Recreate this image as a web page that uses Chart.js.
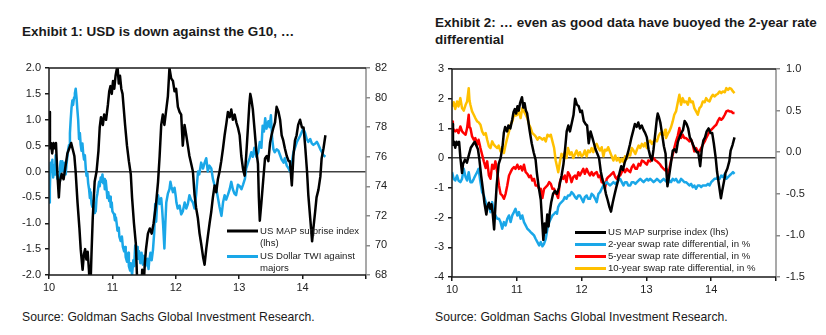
<!DOCTYPE html>
<html>
<head>
<meta charset="utf-8">
<script src="https://cdn.jsdelivr.net/npm/chart.js@4.4.0/dist/chart.umd.min.js"></script>
<style>
  body { margin: 0; background: #fff; width: 826px; height: 335px; overflow: hidden; position: relative;
         font-family: "Liberation Sans", Arial, sans-serif; color: #1a1a1a; }
  .title { position: absolute; font-weight: bold; font-size: 13.5px; line-height: 17px; white-space: nowrap; }
  .source { position: absolute; font-size: 12.2px; line-height: 16px; white-space: nowrap; top: 309px; }
  canvas { position: absolute; }
</style>
</head>
<body>
<div class="title" style="left:22px; top:23px;">Exhibit 1: USD is down against the G10, …</div>
<div class="title" style="left:435px; top:14px;">Exhibit 2: … even as good data have buoyed the 2-year rate<br>differential</div>
<canvas id="chart1" width="413" height="245" style="left:0px; top:55px"></canvas>
<canvas id="chart2" width="413" height="244" style="left:413px; top:56px"></canvas>
<div class="source" style="left:22px;">Source: Goldman Sachs Global Investment Research.</div>
<div class="source" style="left:435px;">Source: Goldman Sachs Global Investment Research.</div>

<script>
// years on the x axis are written as 10 = 2010, 14 = 2014
const yearTicks = [10, 11, 12, 13, 14];

// US MAP surprise index (lhs, both exhibits)
const mapSurprise = [
  [10.00,1.15],[10.015,0.45],[10.03,0.55],[10.05,0.35],[10.07,0.55],[10.09,0.45],[10.11,0.55],[10.13,0.0],[10.155,-0.5],[10.17,-0.2],
  [10.20,-0.05],[10.23,-0.15],[10.26,0.1],[10.29,0.35],[10.32,0.45],[10.35,0.55],[10.38,0.4],[10.40,0.3],[10.42,0.0],[10.45,-0.6],
  [10.48,-1.1],[10.50,-1.5],[10.53,-1.9],[10.55,-1.6],[10.57,-1.5],[10.59,-1.7],[10.61,-1.55],[10.63,-1.9],[10.65,-2.4],[10.67,-1.6],
  [10.69,-0.9],[10.72,-0.2],[10.75,0.0],[10.78,0.4],[10.80,0.85],[10.82,1.05],[10.85,0.9],[10.87,1.1],[10.90,1.0],[10.93,1.3],
  [10.95,1.55],[10.97,1.65],[10.99,1.5],[11.01,1.75],[11.03,1.6],[11.05,1.85],[11.08,2.05],[11.10,1.7],[11.12,1.85],[11.14,1.6],
  [11.16,1.5],[11.18,1.2],[11.20,0.9],[11.23,0.5],[11.26,0.2],[11.29,-0.05],[11.31,-0.5],[11.34,-1.0],[11.37,-1.4],[11.39,-2.1],
  [11.41,-2.75],[11.43,-2.2],[11.45,-2.5],[11.47,-1.9],[11.49,-2.3],[11.51,-1.8],[11.53,-1.5],[11.56,-1.2],[11.59,-1.1],[11.62,-1.2],
  [11.65,-1.0],[11.69,-0.6],[11.72,-0.2],[11.745,0.3],[11.77,0.9],[11.795,1.1],[11.82,0.9],[11.85,1.2],[11.875,1.45],[11.90,2.0],
  [11.927,1.8],[11.955,1.75],[11.98,1.55],[12.005,1.6],[12.033,1.25],[12.06,1.15],[12.085,1.1],[12.11,0.5],[12.138,0.9],[12.165,0.7],
  [12.19,0.5],[12.215,0.3],[12.243,0.15],[12.27,0.0],[12.296,-0.45],[12.32,-0.7],[12.348,-0.9],[12.375,-1.2],[12.401,-1.4],[12.43,-1.65],
  [12.454,-1.8],[12.48,-1.5],[12.506,-1.25],[12.533,-1.0],[12.559,-0.78],[12.585,-0.5],[12.612,-0.27],[12.638,-0.4],[12.664,-0.15],[12.69,0.0],
  [12.717,0.2],[12.745,0.45],[12.77,0.7],[12.80,0.95],[12.822,1.15],[12.85,1.05],[12.875,1.2],[12.90,1.0],[12.928,1.1],[12.955,0.95],
  [12.98,0.85],[13.007,0.7],[13.033,0.3],[13.06,0.05],[13.086,-0.08],[13.11,0.3],[13.138,0.85],[13.16,1.3],[13.175,1.5],[13.191,1.4],
  [13.215,1.2],[13.243,0.8],[13.27,0.4],[13.296,0.15],[13.31,-0.5],[13.325,-0.95],[13.35,-0.6],[13.38,-0.15],[13.407,0.25],[13.435,0.3],
  [13.46,0.2],[13.486,0.55],[13.51,0.7],[13.54,0.85],[13.565,0.95],[13.59,1.25],[13.62,1.15],[13.645,1.0],[13.67,0.7],[13.695,0.6],
  [13.72,0.45],[13.75,0.3],[13.78,0.2],[13.80,0.2],[13.83,-0.27],[13.855,0.3],[13.88,0.6],[13.905,0.7],[13.93,0.9],[13.96,1.0],
  [13.99,0.85],[14.015,0.85],[14.04,0.5],[14.07,0.0],[14.09,-0.45],[14.12,-0.9],[14.15,-1.35],[14.17,-1.1],[14.20,-0.75],[14.22,-0.5],
  [14.25,-0.35],[14.28,-0.1],[14.30,0.25],[14.33,0.45],[14.36,0.7]
];

// US Dollar TWI against majors (rhs, exhibit 1)
const usdTwi = [
  [10.000,72.9],[10.013,73.8],[10.026,75.6],[10.040,75.0],[10.053,75.8],[10.066,74.6],[10.079,75.4],[10.092,74.8],[10.105,76.1],[10.120,75.0],
  [10.132,74.5],[10.145,74.7],[10.158,74.3],[10.171,75.2],[10.184,75.7],[10.197,75.0],[10.210,75.7],[10.224,75.3],[10.237,75.0],[10.250,75.6],
  [10.263,74.8],[10.276,75.5],[10.290,76.0],[10.303,76.5],[10.316,76.8],[10.330,77.6],[10.342,78.5],[10.355,79.3],[10.368,79.8],[10.380,79.5],
  [10.395,80.0],[10.408,80.3],[10.421,80.6],[10.434,80.0],[10.447,79.2],[10.460,78.5],[10.474,77.2],[10.487,77.6],[10.500,76.8],[10.513,76.4],
  [10.527,76.9],[10.540,76.2],[10.553,75.8],[10.566,76.1],[10.580,75.2],[10.592,74.7],[10.605,74.9],[10.618,74.2],[10.632,73.8],[10.645,73.2],
  [10.658,73.6],[10.671,72.8],[10.684,72.6],[10.697,73.0],[10.710,72.2],[10.724,72.6],[10.737,72.3],[10.750,73.2],[10.763,73.5],[10.776,73.9],
  [10.790,74.3],[10.800,74.0],[10.816,74.6],[10.830,74.3],[10.843,74.8],[10.856,74.2],[10.869,74.5],[10.880,73.8],[10.895,74.4],[10.910,73.7],
  [10.920,73.2],[10.935,73.6],[10.950,73.0],[10.963,73.3],[10.974,72.6],[10.990,72.9],[11.000,72.3],[11.027,72.1],[11.040,71.7],[11.055,71.9],
  [11.070,71.4],[11.080,71.0],[11.100,71.2],[11.110,70.6],[11.130,70.3],[11.150,70.6],[11.165,69.9],[11.185,69.6],[11.200,69.9],[11.210,69.2],
  [11.230,68.9],[11.250,69.5],[11.260,68.6],[11.280,68.3],[11.290,68.8],[11.310,68.0],[11.330,69.0],[11.343,68.6],[11.360,70.0],[11.370,69.3],
  [11.390,69.9],[11.400,69.1],[11.420,69.6],[11.440,68.8],[11.460,69.5],[11.480,68.7],[11.500,69.3],[11.520,68.6],[11.550,69.1],[11.570,68.4],
  [11.580,68.9],[11.600,69.5],[11.620,69.0],[11.640,69.7],[11.660,70.9],[11.675,72.8],[11.690,71.6],[11.705,72.8],[11.720,73.4],[11.745,72.8],
  [11.770,73.2],[11.785,72.4],[11.800,71.4],[11.820,69.8],[11.835,71.5],[11.850,72.9],[11.875,73.5],[11.900,73.8],[11.915,74.3],[11.930,74.0],
  [11.955,73.6],[11.980,73.9],[12.000,73.3],[12.010,72.9],[12.030,72.5],[12.060,72.7],[12.085,72.1],[12.110,72.3],[12.140,72.9],[12.165,72.5],
  [12.190,72.8],[12.215,73.4],[12.240,73.1],[12.270,72.9],[12.295,72.5],[12.320,73.4],[12.350,75.0],[12.370,74.8],[12.400,75.6],[12.430,75.2],
  [12.455,75.6],[12.480,75.9],[12.505,75.0],[12.530,75.4],[12.560,75.2],[12.585,74.5],[12.610,74.1],[12.640,73.8],[12.665,73.2],[12.690,72.6],
  [12.720,72.0],[12.745,72.9],[12.770,73.4],[12.795,73.1],[12.820,73.4],[12.850,73.8],[12.875,74.3],[12.900,73.8],[12.925,73.5],[12.950,73.4],
  [12.980,74.1],[13.010,74.0],[13.035,73.8],[13.060,74.1],[13.090,74.5],[13.110,75.2],[13.140,75.6],[13.165,75.9],[13.190,76.3],[13.215,76.0],
  [13.240,76.6],[13.270,76.0],[13.300,76.3],[13.325,77.0],[13.350,76.6],[13.370,78.1],[13.390,77.7],[13.410,78.6],[13.430,77.9],[13.460,78.4],
  [13.480,78.0],[13.500,78.8],[13.520,77.2],[13.540,76.5],[13.560,76.3],[13.590,76.5],[13.620,76.4],[13.645,76.1],[13.670,75.8],[13.700,75.6],
  [13.720,75.9],[13.750,75.4],[13.780,75.2],[13.800,75.0],[13.830,75.6],[13.855,76.3],[13.880,76.6],[13.910,77.0],[13.935,77.2],[13.960,77.4],
  [13.990,77.7],[14.010,77.9],[14.040,77.6],[14.065,77.2],[14.090,77.0],[14.120,77.2],[14.145,76.9],[14.170,76.8],[14.200,76.9],[14.225,77.0],
  [14.250,76.8],[14.280,76.5],[14.305,76.3],[14.330,76.1],[14.360,76.0]
];

// swap rate differentials, in % (rhs, exhibit 2)
const swap2y = [
  [10.00,-0.24],[10.026,-0.32],[10.05,-0.34],[10.078,-0.28],[10.10,-0.34],[10.129,-0.36],[10.155,-0.32],[10.181,-0.2],[10.21,-0.3],[10.233,-0.34],
  [10.258,-0.24],[10.284,-0.36],[10.31,-0.36],[10.336,-0.32],[10.36,-0.28],[10.388,-0.24],[10.41,-0.2],[10.439,-0.36],[10.465,-0.48],[10.491,-0.52],
  [10.52,-0.6],[10.543,-0.68],[10.57,-0.64],[10.594,-0.72],[10.62,-0.6],[10.646,-0.72],[10.67,-0.76],[10.698,-0.8],[10.725,-0.8],[10.749,-0.84],
  [10.775,-0.92],[10.801,-0.84],[10.827,-0.88],[10.853,-0.8],[10.88,-0.76],[10.904,-0.84],[10.93,-0.76],[10.956,-0.72],[10.98,-0.68],[11.008,-0.76],
  [11.033,-0.72],[11.059,-0.8],[11.085,-0.76],[11.111,-0.84],[11.137,-0.88],[11.163,-0.92],[11.19,-0.94],[11.214,-0.96],[11.24,-0.98],[11.266,-1.0],
  [11.29,-1.04],[11.318,-1.08],[11.345,-1.12],[11.37,-1.08],[11.395,-1.13],[11.421,-1.1],[11.447,-1.04],[11.473,-0.92],[11.50,-0.84],[11.525,-0.8],
  [11.55,-0.76],[11.576,-0.74],[11.60,-0.72],[11.62,-0.74],[11.638,-0.66],[11.664,-0.62],[11.69,-0.6],[11.716,-0.58],[11.74,-0.54],[11.767,-0.56],
  [11.79,-0.52],[11.819,-0.52],[11.845,-0.48],[11.871,-0.5],[11.90,-0.54],[11.922,-0.56],[11.95,-0.52],[11.974,-0.52],[12.00,-0.56],[12.026,-0.6],
  [12.05,-0.54],[12.078,-0.52],[12.10,-0.56],[12.129,-0.56],[12.155,-0.5],[12.181,-0.52],[12.21,-0.56],[12.233,-0.6],[12.26,-0.5],[12.285,-0.48],
  [12.31,-0.44],[12.336,-0.4],[12.36,-0.38],[12.388,-0.36],[12.41,-0.38],[12.44,-0.4],[12.465,-0.38],[12.491,-0.36],[12.52,-0.38],[12.543,-0.36],
  [12.57,-0.34],[12.595,-0.32],[12.62,-0.36],[12.646,-0.4],[12.67,-0.36],[12.698,-0.36],[12.72,-0.4],[12.75,-0.4],[12.775,-0.36],[12.801,-0.36],
  [12.83,-0.38],[12.853,-0.36],[12.88,-0.34],[12.905,-0.32],[12.93,-0.34],[12.957,-0.36],[12.98,-0.34],[13.008,-0.32],[13.03,-0.34],[13.06,-0.32],
  [13.085,-0.34],[13.111,-0.36],[13.14,-0.34],[13.163,-0.32],[13.19,-0.34],[13.214,-0.36],[13.24,-0.34],[13.266,-0.32],[13.29,-0.34],[13.318,-0.36],
  [13.33,-0.38],[13.354,-0.34],[13.38,-0.36],[13.406,-0.32],[13.43,-0.34],[13.457,-0.32],[13.485,-0.36],[13.509,-0.36],[13.535,-0.32],[13.56,-0.34],
  [13.585,-0.36],[13.612,-0.36],[13.64,-0.38],[13.664,-0.4],[13.69,-0.38],[13.716,-0.42],[13.74,-0.4],[13.767,-0.44],[13.793,-0.4],[13.819,-0.4],
  [13.845,-0.42],[13.871,-0.4],[13.90,-0.4],[13.922,-0.4],[13.95,-0.38],[13.974,-0.4],[14.00,-0.36],[14.026,-0.34],[14.05,-0.32],[14.078,-0.32],
  [14.10,-0.3],[14.129,-0.32],[14.155,-0.28],[14.181,-0.3],[14.21,-0.26],[14.233,-0.32],[14.26,-0.3],[14.284,-0.28],[14.31,-0.26],[14.336,-0.24],
  [14.36,-0.26]
];

const swap5y = [
  [10.00,0.37],[10.013,0.29],[10.026,0.27],[10.05,0.25],[10.078,0.27],[10.10,0.23],[10.129,0.31],[10.155,0.25],[10.181,0.23],[10.21,0.21],
  [10.233,0.29],[10.258,0.45],[10.27,0.3],[10.284,0.29],[10.31,0.19],[10.336,0.15],[10.36,0.17],[10.388,0.09],[10.41,0.15],[10.439,0.05],
  [10.465,-0.03],[10.491,-0.11],[10.52,-0.19],[10.543,-0.11],[10.57,-0.28],[10.594,-0.32],[10.62,-0.15],[10.646,-0.2],[10.67,-0.11],[10.698,-0.24],
  [10.725,-0.4],[10.749,-0.5],[10.775,-0.52],[10.801,-0.56],[10.827,-0.5],[10.853,-0.4],[10.88,-0.28],[10.904,-0.24],[10.93,-0.2],[10.956,-0.18],
  [10.98,-0.2],[11.008,-0.15],[11.033,-0.2],[11.059,-0.17],[11.085,-0.22],[11.111,-0.15],[11.137,-0.24],[11.163,-0.26],[11.19,-0.3],[11.214,-0.28],
  [11.24,-0.34],[11.266,-0.32],[11.29,-0.4],[11.318,-0.4],[11.345,-0.44],[11.37,-0.44],[11.395,-0.55],[11.421,-0.44],[11.447,-0.42],[11.473,-0.4],
  [11.50,-0.36],[11.525,-0.38],[11.55,-0.44],[11.576,-0.44],[11.60,-0.5],[11.612,-0.5],[11.638,-0.55],[11.664,-0.36],[11.69,-0.3],[11.716,-0.32],
  [11.74,-0.28],[11.767,-0.36],[11.79,-0.24],[11.819,-0.28],[11.845,-0.36],[11.871,-0.3],[11.90,-0.28],[11.922,-0.32],[11.95,-0.24],[11.974,-0.28],
  [12.00,-0.24],[12.026,-0.2],[12.05,-0.26],[12.078,-0.2],[12.10,-0.24],[12.129,-0.28],[12.155,-0.24],[12.181,-0.28],[12.21,-0.25],[12.233,-0.24],
  [12.26,-0.3],[12.285,-0.28],[12.31,-0.36],[12.336,-0.36],[12.36,-0.44],[12.388,-0.32],[12.41,-0.3],[12.44,-0.28],[12.465,-0.26],[12.491,-0.24],
  [12.52,-0.3],[12.543,-0.32],[12.57,-0.28],[12.595,-0.28],[12.62,-0.24],[12.646,-0.2],[12.67,-0.24],[12.698,-0.2],[12.72,-0.22],[12.75,-0.24],
  [12.775,-0.18],[12.801,-0.15],[12.83,-0.2],[12.853,-0.2],[12.88,-0.14],[12.905,-0.16],[12.93,-0.1],[12.957,-0.11],[12.98,-0.13],[13.008,-0.15],
  [13.03,-0.1],[13.06,-0.11],[13.085,-0.07],[13.111,-0.07],[13.14,-0.1],[13.163,-0.11],[13.19,-0.13],[13.214,-0.15],[13.24,-0.18],[13.266,-0.2],
  [13.29,-0.22],[13.31,-0.2],[13.33,-0.28],[13.354,-0.2],[13.38,-0.1],[13.406,-0.03],[13.43,0.05],[13.457,0.13],[13.485,0.2],[13.509,0.29],
  [13.535,0.17],[13.56,0.21],[13.585,0.17],[13.612,0.17],[13.64,0.15],[13.664,0.13],[13.69,0.15],[13.716,0.09],[13.74,0.01],[13.767,0.05],
  [13.793,0.01],[13.819,0.01],[13.845,0.05],[13.871,0.09],[13.90,0.13],[13.922,0.17],[13.95,0.21],[13.974,0.25],[14.00,0.27],[14.026,0.29],
  [14.05,0.31],[14.078,0.33],[14.10,0.37],[14.129,0.41],[14.155,0.39],[14.181,0.41],[14.21,0.45],[14.233,0.49],[14.26,0.5],[14.284,0.49],
  [14.31,0.49],[14.336,0.47],[14.36,0.47]
];

const swap10y = [
  [10.00,0.55],[10.026,0.6],[10.05,0.52],[10.078,0.61],[10.10,0.55],[10.129,0.65],[10.155,0.53],[10.181,0.5],[10.21,0.57],[10.233,0.61],
  [10.258,0.77],[10.27,0.62],[10.284,0.57],[10.31,0.49],[10.336,0.45],[10.36,0.41],[10.388,0.37],[10.41,0.36],[10.439,0.33],[10.465,0.25],
  [10.491,0.21],[10.52,0.23],[10.543,0.15],[10.57,0.07],[10.594,0.05],[10.62,0.13],[10.646,0.09],[10.67,0.07],[10.698,0.05],[10.72,0.08],
  [10.749,0.01],[10.775,0.05],[10.801,-0.01],[10.827,0.09],[10.853,0.17],[10.88,0.25],[10.904,0.33],[10.93,0.37],[10.956,0.45],[10.98,0.44],
  [11.008,0.45],[11.033,0.49],[11.059,0.41],[11.085,0.53],[11.111,0.49],[11.137,0.45],[11.163,0.41],[11.19,0.33],[11.214,0.29],[11.24,0.23],
  [11.266,0.21],[11.29,0.19],[11.318,0.15],[11.345,0.18],[11.37,0.17],[11.395,0.15],[11.421,0.17],[11.447,0.13],[11.473,0.21],[11.50,0.19],
  [11.525,0.21],[11.55,0.13],[11.576,0.05],[11.60,-0.1],[11.628,-0.2],[11.64,-0.24],[11.664,-0.12],[11.69,-0.02],[11.716,-0.05],[11.74,0.0],
  [11.767,-0.07],[11.79,0.05],[11.819,-0.03],[11.845,0.0],[11.871,-0.07],[11.90,-0.02],[11.922,0.02],[11.95,-0.04],[11.974,0.0],[12.00,-0.05],
  [12.026,-0.03],[12.05,0.02],[12.078,-0.05],[12.10,0.02],[12.129,0.0],[12.155,0.05],[12.181,0.0],[12.21,0.08],[12.233,0.1],[12.26,0.05],
  [12.285,0.02],[12.31,0.06],[12.336,-0.05],[12.36,0.03],[12.388,0.02],[12.41,0.06],[12.44,0.0],[12.465,-0.05],[12.491,-0.1],[12.52,-0.04],
  [12.543,-0.1],[12.57,-0.07],[12.595,-0.12],[12.62,-0.08],[12.646,-0.12],[12.67,-0.05],[12.698,-0.08],[12.72,-0.02],[12.75,-0.04],[12.775,0.05],
  [12.801,0.02],[12.83,-0.02],[12.853,0.03],[12.88,0.08],[12.905,0.05],[12.93,0.1],[12.957,0.07],[12.98,0.11],[13.008,0.05],[13.03,0.12],
  [13.06,0.14],[13.085,0.1],[13.111,0.13],[13.14,0.15],[13.163,0.13],[13.19,0.2],[13.214,0.23],[13.24,0.21],[13.266,0.21],[13.29,0.27],
  [13.302,0.17],[13.33,0.22],[13.354,0.25],[13.38,0.3],[13.406,0.37],[13.43,0.45],[13.457,0.49],[13.485,0.6],[13.509,0.69],[13.535,0.57],
  [13.56,0.65],[13.585,0.6],[13.612,0.61],[13.64,0.57],[13.664,0.65],[13.69,0.6],[13.716,0.61],[13.74,0.53],[13.767,0.49],[13.793,0.45],
  [13.819,0.53],[13.845,0.55],[13.871,0.61],[13.90,0.6],[13.922,0.65],[13.95,0.62],[13.974,0.61],[14.00,0.66],[14.026,0.69],[14.05,0.67],
  [14.078,0.69],[14.10,0.7],[14.129,0.73],[14.155,0.71],[14.181,0.73],[14.21,0.72],[14.233,0.77],[14.26,0.75],[14.284,0.77],[14.31,0.76],
  [14.336,0.73],[14.36,0.71]
];

const BLACK = '#000000';
const SKY = '#1aa7e8';
const RED = '#ff0000';
const GOLD = '#ffc000';
const FONT = '"Liberation Sans", Arial, sans-serif';

const toPoints = arr => arr.map(([x, y]) => ({ x, y }));

function lineSet(data, color, axis) {
  return { data: toPoints(data), borderColor: color, borderWidth: 2.5, pointRadius: 0,
           tension: 0, yAxisID: axis, borderJoinStyle: 'round' };
}

// box round the plot, darker on left/top/bottom, grey on the right axis
const framePlugin = {
  id: 'frame',
  afterDatasetsDraw(chart) {
    const { ctx, chartArea: a } = chart;
    ctx.save();
    ctx.lineWidth = 1.5;
    ctx.strokeStyle = '#8c8c8c';
    ctx.beginPath(); ctx.moveTo(a.right, a.top); ctx.lineTo(a.right, a.bottom); ctx.stroke();
    ctx.strokeStyle = '#1a1a1a';
    ctx.beginPath();
    ctx.moveTo(a.right, a.top); ctx.lineTo(a.left, a.top); ctx.lineTo(a.left, a.bottom); ctx.lineTo(a.right, a.bottom);
    ctx.stroke();
    ctx.restore();
  }
};

// legend drawn inside the plot, no box behind it
const insideLegend = {
  id: 'insideLegend',
  afterDatasetsDraw(chart, args, opts) {
    const ctx = chart.ctx;
    ctx.save();
    ctx.font = '9.6px ' + FONT;
    ctx.fillStyle = '#222';
    ctx.textBaseline = 'middle';
    opts.items.forEach(it => {
      ctx.strokeStyle = it.color;
      ctx.lineWidth = 3;
      ctx.beginPath(); ctx.moveTo(opts.x, it.y); ctx.lineTo(opts.x + opts.len, it.y); ctx.stroke();
      it.text.forEach((t, i) => ctx.fillText(t, opts.x + opts.len + 2, it.y + i * 12));
    });
    ctx.restore();
  }
};

function xScale(height) {
  return {
    type: 'linear', min: 10, max: 15,
    border: { display: false },
    grid: { drawOnChartArea: false, tickLength: 4, tickColor: '#1a1a1a', lineWidth: 1.5 },
    ticks: { stepSize: 1, color: '#222', font: { size: 11, family: FONT }, padding: 2, maxRotation: 0,
             callback: v => yearTicks.includes(v) ? String(v) : '' },
    afterFit: s => { s.height = height; }
  };
}

function leftScale(min, max, step, digits, width) {
  return {
    position: 'left', min, max,
    border: { display: false },
    grid: { color: c => c.tick.value === 0 ? '#404040' : 'rgba(0,0,0,0)', lineWidth: 1.5,
            tickColor: '#1a1a1a', tickLength: 4 },
    ticks: { stepSize: step, color: '#222', font: { size: 11, family: FONT }, padding: 4,
             callback: v => v.toFixed(digits) },
    afterFit: s => { s.width = width; }
  };
}

function rightScale(min, max, step, digits, width, pad) {
  return {
    position: 'right', min, max,
    border: { display: false },
    grid: { drawOnChartArea: false, tickColor: '#8c8c8c', tickLength: 4, lineWidth: 1.5 },
    ticks: { stepSize: step, color: '#222', font: { size: 11, family: FONT }, padding: pad,
             callback: v => v.toFixed(digits) },
    afterFit: s => { s.width = width; }
  };
}

new Chart(document.getElementById('chart1'), {
  type: 'line',
  data: {
    datasets: [
      lineSet(mapSurprise, BLACK, 'y'),
      lineSet(usdTwi, SKY, 'y1')
    ]
  },
  options: {
    responsive: false, animation: false,
    layout: { padding: { top: 13, left: 0, right: 0, bottom: 0 } },
    plugins: {
      legend: { display: false }, tooltip: { enabled: false },
      insideLegend: { x: 227, len: 31, items: [
        { color: BLACK, y: 176, text: ['US MAP surprise index', '(lhs)'] },
        { color: SKY, y: 201.5, text: ['US Dollar TWI against', 'majors'] }
      ] }
    },
    scales: {
      x: xScale(25),
      y: leftScale(-2, 2, 0.5, 1, 49),
      y1: rightScale(68, 82, 2, 0, 47, 5)
    }
  },
  plugins: [framePlugin, insideLegend]
});

new Chart(document.getElementById('chart2'), {
  type: 'line',
  data: {
    datasets: [
      lineSet(mapSurprise, BLACK, 'y'),
      lineSet(swap2y, SKY, 'y1'),
      lineSet(swap5y, RED, 'y1'),
      lineSet(swap10y, GOLD, 'y1')
    ]
  },
  options: {
    responsive: false, animation: false,
    layout: { padding: { top: 13, left: 0, right: 0, bottom: 0 } },
    plugins: {
      legend: { display: false }, tooltip: { enabled: false },
      insideLegend: { x: 162, len: 31, items: [
        { color: BLACK, y: 176.5, text: ['US MAP surprise index (lhs)'] },
        { color: SKY, y: 188.5, text: ['2-year swap rate differential, in %'] },
        { color: RED, y: 200.5, text: ['5-year swap rate differential, in %'] },
        { color: GOLD, y: 212.5, text: ['10-year swap rate differential, in %'] }
      ] }
    },
    scales: {
      x: xScale(23),
      y: leftScale(-4, 3, 1, 0, 39),
      y1: rightScale(-1.5, 1.0, 0.5, 1, 50, 6)
    }
  },
  plugins: [framePlugin, insideLegend]
});
</script>
</body>
</html>
